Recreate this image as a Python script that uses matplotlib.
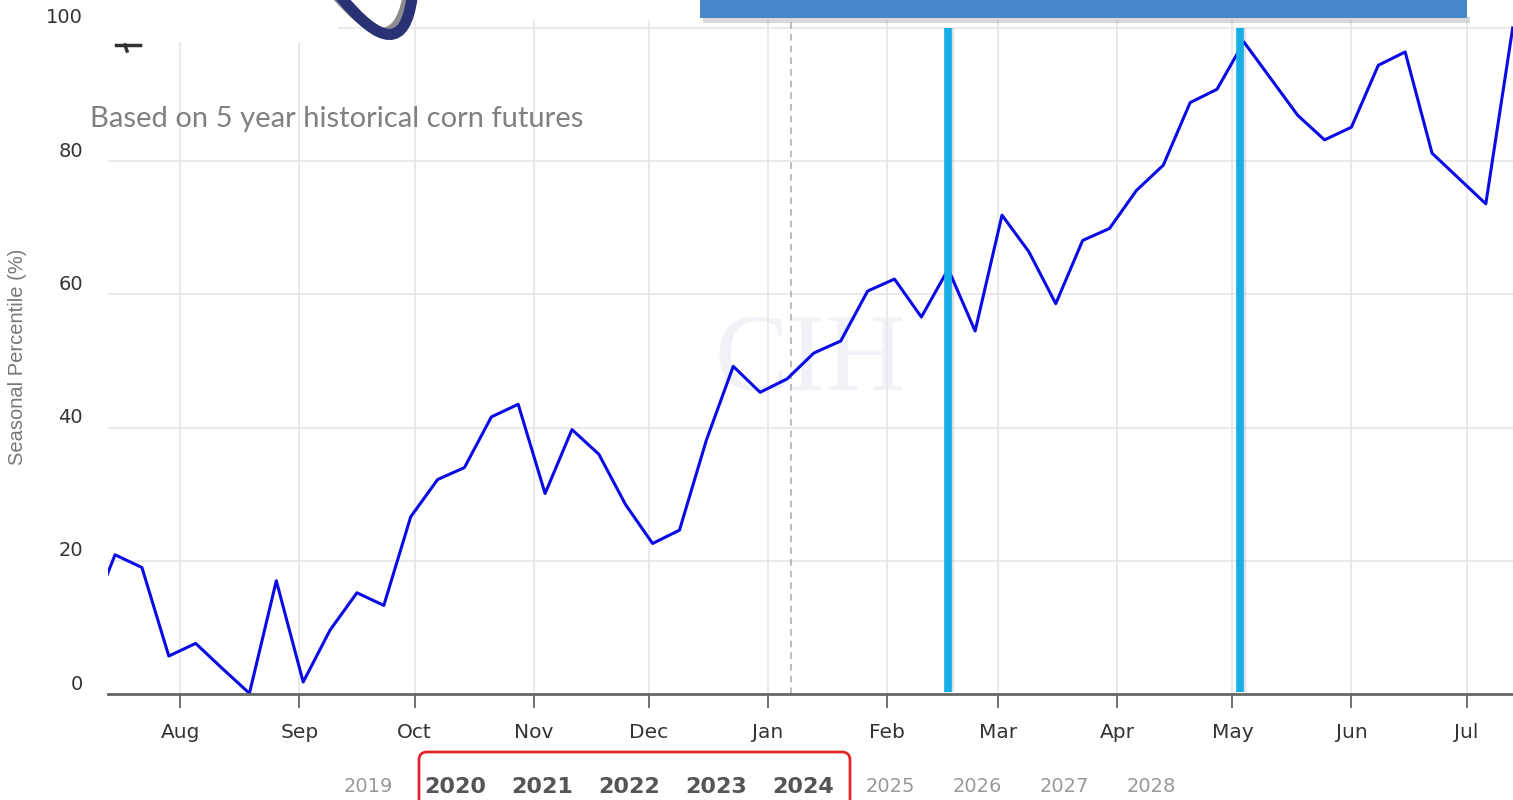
import pandas as pd
import matplotlib
matplotlib.use('Agg')
import matplotlib.pyplot as plt
import matplotlib.dates as mdates
from matplotlib.patches import Rectangle, FancyBboxPatch, PathPatch
from matplotlib.path import Path
from matplotlib.transforms import ScaledTranslation, IdentityTransform

# weekly seasonal percentile, corn futures (5 year history)
weeks = pd.date_range('2023-07-08', periods=54, freq='7D')
percentile = [10.7, 20.9, 19.0, 5.7, 7.6, 3.8, 0.1, 17.0, 1.8, 9.6,
              15.2, 13.3, 26.6, 32.2, 34.0, 41.6, 43.5, 30.1, 39.7, 36.0,
              28.4, 22.6, 24.6, 38.1, 49.2, 45.3, 47.3, 51.2, 53.0, 60.5,
              62.3, 56.6, 63.8, 54.5, 71.9, 66.4, 58.6, 68.1, 69.9, 75.6,
              79.4, 88.8, 90.8, 97.9, 92.4, 86.9, 83.2, 85.1, 94.4, 96.4,
              81.2, 77.4, 73.6, 100.0]

highlight_dates = ['2024-02-17', '2024-05-03']
today_date = '2024-01-07'
x_start, x_end = '2023-07-13 04:00', '2024-07-13 02:00'

years = ['2019', '2020', '2021', '2022', '2023', '2024', '2025', '2026', '2027', '2028']
selected_years = ['2020', '2021', '2022', '2023', '2024']
subtitle = 'Based on 5 year historical corn futures'

W, H = 1513, 800
fig = plt.figure(figsize=(W / 100, H / 100), dpi=100)
fig.patch.set_facecolor('white')
ax = fig.add_axes([108 / W, 1 - 694 / H, 1 - 108 / W, (694 - 20) / H])

ax.set_xlim(pd.Timestamp(x_start), pd.Timestamp(x_end))
ax.set_ylim(0, 101.2)

ax.grid(True, color='#e6e6e6', linewidth=1.2)
ax.set_axisbelow(True)
for s in ['top', 'right', 'left']:
    ax.spines[s].set_visible(False)
ax.spines['bottom'].set_color('#666666')
ax.spines['bottom'].set_linewidth(2)
ax.spines['bottom'].set_zorder(5)

ax.xaxis.set_major_locator(mdates.MonthLocator())
ax.xaxis.set_major_formatter(mdates.DateFormatter('%b'))
ax.tick_params(axis='x', length=10, width=1.3, color='#666666', pad=11,
               labelsize=14.5, labelcolor='#333333')
ax.set_yticks([0, 20, 40, 60, 80, 100])
ax.tick_params(axis='y', length=0, pad=18, labelsize=14, labelcolor='#333333')
for lab in ax.get_yticklabels():
    lab.set_transform(lab.get_transform() + ScaledTranslation(0, 12 / 100, fig.dpi_scale_trans))

ax.set_ylabel('Seasonal Percentile (%)', family='Liberation Sans', fontsize=14.5,
              color='#777777')
ax.yaxis.set_label_coords(-(108 - 27) / (W - 108), 0.5)

# watermark
ax.text(0.5, 0.49, 'CIH', transform=ax.transAxes, ha='center', va='center',
        family='Liberation Serif', fontsize=80, color='#f0f2f7', zorder=0)

# today marker
ax.axvline(pd.Timestamp(today_date), color='#b0b0b0', linestyle=(0, (4, 3)), linewidth=1.2)

# highlight lines
for d in highlight_dates:
    ax.vlines(pd.Timestamp(d) + pd.Timedelta(hours=10), 0.3, 100, color='#9aa3aa',
              linewidth=6, alpha=0.3, zorder=3)
    ax.vlines(pd.Timestamp(d), 0.3, 100, color='#16aee6', linewidth=5.5, zorder=4)

ax.plot(weeks, percentile, color='#0a0ae6', linewidth=2.2, zorder=3)

# white cover over grid behind the logo
fig.patches.append(Rectangle((108, 758), 230, 42, transform=IdentityTransform(),
                             facecolor='white', edgecolor='none', zorder=2))
# cropped logo swoosh
swoosh_grey = Path([(334, 804), (392, 736), (405, 802)], [Path.MOVETO, Path.CURVE3, Path.CURVE3])
swoosh_navy = Path([(340, 804), (402, 728), (412, 802)], [Path.MOVETO, Path.CURVE3, Path.CURVE3])
fig.patches.append(PathPatch(swoosh_grey, transform=IdentityTransform(), facecolor='none',
                             edgecolor='#8c8c8c', linewidth=4, zorder=3))
fig.patches.append(PathPatch(swoosh_navy, transform=IdentityTransform(), facecolor='none',
                             edgecolor='#283274', linewidth=8, capstyle='round', zorder=3))
fig.lines.append(plt.Line2D([116, 140], [755, 755], transform=IdentityTransform(),
                            color='#333333', linewidth=2.5))
fig.lines.append(plt.Line2D([125, 127], [755, 749], transform=IdentityTransform(),
                            color='#333333', linewidth=2.5))

# blue banner at the top
fig.patches.append(Rectangle((703, 777), 767, 6, transform=IdentityTransform(),
                             facecolor='#7f7f7f', edgecolor='none', alpha=0.3, zorder=3))
fig.patches.append(Rectangle((700, 782), 767, 20, transform=IdentityTransform(),
                             facecolor='#4587c8', edgecolor='none', zorder=4))

fig.text(90 / W, 1 - 119 / H, subtitle, family='Lato', fontsize=21, color='#808080',
         ha='left', va='center')

# year selector
for i, yr in enumerate(years):
    xc = 368 + i * 87.0
    if yr in selected_years:
        fig.text(xc / W, 1 - 787 / H, yr, ha='center', va='center', fontsize=16,
                 fontweight='bold', color='#555555')
    else:
        fig.text(xc / W, 1 - 787 / H, yr, ha='center', va='center', fontsize=14,
                 color='#999999')
fig.patches.append(FancyBboxPatch((419, -20), 431, 68, boxstyle='round,pad=0,rounding_size=8',
                                  transform=IdentityTransform(), facecolor='none',
                                  edgecolor='#e0282c', linewidth=2, zorder=5))

fig.savefig('out.png', dpi=100)
